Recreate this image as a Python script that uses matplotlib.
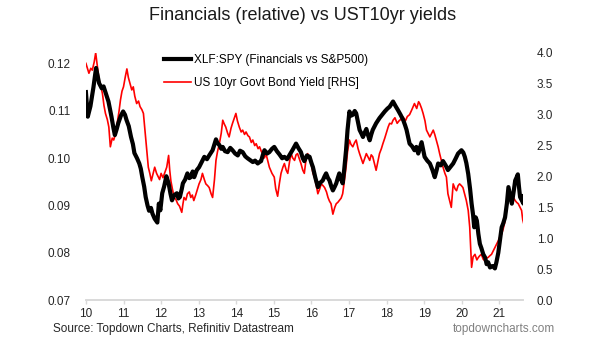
import matplotlib
matplotlib.use("Agg")
from matplotlib import pyplot as plt
from matplotlib.lines import Line2D

plt.rcParams['font.family'] = ['Liberation Sans', 'DejaVu Sans']

# XLF:SPY relative (left axis), time in years (10 = 2010)
fin_t = [10.00, 10.05, 10.12, 10.20, 10.27, 10.35, 10.42, 10.47, 10.54, 10.60, 10.68, 10.73, 10.77, 10.82,
         10.86, 10.93, 10.99, 11.04, 11.08, 11.14, 11.20, 11.25, 11.29, 11.36, 11.42, 11.46, 11.50, 11.55,
         11.59, 11.64, 11.68, 11.73, 11.77, 11.83, 11.90, 11.94, 11.98, 12.03, 12.08, 12.14, 12.20, 12.25,
         12.29, 12.35, 12.42, 12.46, 12.50, 12.55, 12.58, 12.64, 12.70, 12.75, 12.79, 12.84, 12.88, 12.95,
         13.01, 13.08, 13.15, 13.22, 13.28, 13.33, 13.37, 13.42, 13.46, 13.50, 13.55, 13.60, 13.64, 13.70,
         13.77, 13.84, 13.90, 13.97, 14.04, 14.10, 14.17, 14.24, 14.30, 14.37, 14.44, 14.50, 14.57, 14.62,
         14.66, 14.71, 14.75, 14.82, 14.88, 14.95, 15.01, 15.08, 15.15, 15.22, 15.28, 15.35, 15.41, 15.50,
         15.59, 15.65, 15.72, 15.77, 15.81, 15.88, 15.95, 16.00, 16.04, 16.10, 16.17, 16.23, 16.30, 16.35,
         16.39, 16.44, 16.48, 16.53, 16.57, 16.62, 16.66, 16.70, 16.74, 16.79, 16.83, 16.87, 16.92, 16.96,
         17.01, 17.05, 17.10, 17.15, 17.19, 17.24, 17.28, 17.33, 17.37, 17.42, 17.46, 17.50, 17.55, 17.59,
         17.63, 17.68, 17.72, 17.77, 17.81, 17.88, 17.95, 18.02, 18.08, 18.13, 18.17, 18.24, 18.30, 18.37,
         18.44, 18.49, 18.53, 18.57, 18.61, 18.68, 18.74, 18.79, 18.84, 18.93, 19.01, 19.08, 19.15, 19.22,
         19.28, 19.33, 19.37, 19.44, 19.50, 19.57, 19.63, 19.70, 19.77, 19.84, 19.90, 19.99, 20.04, 20.08,
         20.12, 20.17, 20.22, 20.26, 20.30, 20.33, 20.37, 20.40, 20.44, 20.48, 20.52, 20.57, 20.62, 20.66,
         20.70, 20.75, 20.82, 20.88, 20.92, 20.97, 21.02, 21.06, 21.10, 21.15, 21.20, 21.24, 21.29, 21.33,
         21.38, 21.42, 21.46, 21.49, 21.52, 21.55, 21.60, 21.64, 21.65]
fin_v = [0.1140, 0.1088, 0.1110, 0.1150, 0.1191, 0.1159, 0.1148, 0.1152, 0.1135, 0.1120, 0.1088, 0.1065,
         0.1049, 0.1062, 0.1074, 0.1090, 0.1099, 0.1092, 0.1081, 0.1068, 0.1045, 0.1030, 0.1011, 0.1000,
         0.0989, 0.0978, 0.0960, 0.0940, 0.0918, 0.0900, 0.0889, 0.0895, 0.0883, 0.0872, 0.0864, 0.0904,
         0.0890, 0.0926, 0.0940, 0.0962, 0.0947, 0.0925, 0.0911, 0.0922, 0.0926, 0.0915, 0.0918, 0.0935,
         0.0947, 0.0955, 0.0968, 0.0958, 0.0960, 0.0972, 0.0960, 0.0975, 0.0981, 0.0992, 0.1003, 0.0998,
         0.1006, 0.1012, 0.1017, 0.1030, 0.1040, 0.1032, 0.1028, 0.1020, 0.1024, 0.1015, 0.1013, 0.1022,
         0.1017, 0.1010, 0.1006, 0.1016, 0.1013, 0.1004, 0.1000, 0.0996, 0.0992, 0.0995, 0.0989, 0.0992,
         0.0994, 0.1008, 0.1017, 0.1010, 0.1013, 0.1020, 0.1024, 0.1015, 0.1008, 0.1000, 0.1003, 0.0998,
         0.1006, 0.1018, 0.1031, 0.1022, 0.1013, 0.1000, 0.0994, 0.1006, 0.1003, 0.0990, 0.0981, 0.0960,
         0.0939, 0.0948, 0.0953, 0.0962, 0.0968, 0.0958, 0.0953, 0.0940, 0.0932, 0.0940, 0.0947, 0.0958,
         0.0968, 0.0955, 0.0947, 0.0975, 0.1017, 0.1060, 0.1099, 0.1090, 0.1092, 0.1100, 0.1095, 0.1075,
         0.1060, 0.1052, 0.1045, 0.1055, 0.1062, 0.1050, 0.1038, 0.1050, 0.1060, 0.1068, 0.1074, 0.1080,
         0.1085, 0.1092, 0.1099, 0.1105, 0.1109, 0.1115, 0.1120, 0.1110, 0.1102, 0.1092, 0.1081, 0.1070,
         0.1060, 0.1045, 0.1031, 0.1025, 0.1017, 0.1024, 0.1010, 0.1034, 0.1003, 0.0995, 0.0989, 0.0975,
         0.0960, 0.0975, 0.0989, 0.0985, 0.0994, 0.0985, 0.0975, 0.0982, 0.0989, 0.1000, 0.1010, 0.1017,
         0.1012, 0.1003, 0.0990, 0.0967, 0.0935, 0.0904, 0.0880, 0.0854, 0.0875, 0.0868, 0.0840, 0.0819,
         0.0810, 0.0797, 0.0790, 0.0776, 0.0780, 0.0769, 0.0772, 0.0767, 0.0780, 0.0800, 0.0830, 0.0854,
         0.0862, 0.0875, 0.0905, 0.0939, 0.0920, 0.0904, 0.0930, 0.0953, 0.0960, 0.0966, 0.0940, 0.0918,
         0.0910, 0.0904, 0.0920]

# US 10yr govt bond yield (right axis)
ust_t = [10.00, 10.04, 10.08, 10.13, 10.17, 10.22, 10.26, 10.30, 10.35, 10.40, 10.44, 10.48, 10.52, 10.57,
         10.61, 10.65, 10.70, 10.74, 10.79, 10.83, 10.88, 10.92, 10.96, 11.00, 11.05, 11.09, 11.13, 11.17,
         11.22, 11.26, 11.30, 11.35, 11.40, 11.44, 11.49, 11.53, 11.57, 11.62, 11.66, 11.70, 11.74, 11.79,
         11.83, 11.88, 11.92, 11.96, 12.00, 12.05, 12.09, 12.15, 12.20, 12.23, 12.26, 12.30, 12.35, 12.40,
         12.44, 12.49, 12.55, 12.58, 12.61, 12.66, 12.70, 12.75, 12.79, 12.83, 12.87, 12.92, 12.96, 13.01,
         13.06, 13.10, 13.15, 13.19, 13.24, 13.28, 13.33, 13.37, 13.42, 13.46, 13.50, 13.55, 13.60, 13.64,
         13.68, 13.72, 13.77, 13.81, 13.86, 13.90, 13.95, 13.99, 14.03, 14.08, 14.13, 14.17, 14.22, 14.26,
         14.31, 14.35, 14.40, 14.44, 14.49, 14.53, 14.58, 14.62, 14.67, 14.71, 14.75, 14.79, 14.84, 14.88,
         14.95, 15.01, 15.05, 15.10, 15.15, 15.19, 15.24, 15.28, 15.33, 15.37, 15.42, 15.46, 15.50, 15.55,
         15.59, 15.63, 15.68, 15.72, 15.77, 15.81, 15.85, 15.90, 15.95, 15.99, 16.04, 16.08, 16.13, 16.17,
         16.22, 16.26, 16.31, 16.35, 16.40, 16.44, 16.48, 16.52, 16.57, 16.62, 16.66, 16.70, 16.74, 16.79,
         16.83, 16.87, 16.92, 16.96, 17.01, 17.05, 17.10, 17.15, 17.19, 17.24, 17.28, 17.33, 17.37, 17.42,
         17.46, 17.50, 17.55, 17.59, 17.63, 17.68, 17.72, 17.77, 17.81, 17.86, 17.90, 17.95, 17.99, 18.04,
         18.08, 18.13, 18.17, 18.22, 18.28, 18.33, 18.37, 18.44, 18.50, 18.55, 18.61, 18.67, 18.74, 18.80,
         18.85, 18.88, 18.93, 18.97, 19.02, 19.06, 19.10, 19.15, 19.20, 19.24, 19.28, 19.32, 19.37, 19.41,
         19.46, 19.50, 19.55, 19.59, 19.63, 19.68, 19.72, 19.77, 19.82, 19.86, 19.90, 19.94, 19.99, 20.03,
         20.08, 20.12, 20.17, 20.21, 20.24, 20.26, 20.30, 20.35, 20.40, 20.44, 20.48, 20.52, 20.57, 20.61,
         20.66, 20.70, 20.75, 20.79, 20.84, 20.88, 20.92, 20.97, 21.01, 21.06, 21.10, 21.15, 21.20, 21.24,
         21.28, 21.33, 21.38, 21.42, 21.46, 21.50, 21.55, 21.59, 21.62, 21.65]
ust_v = [3.83, 3.75, 3.67, 3.75, 3.72, 3.85, 4.00, 3.80, 3.56, 3.45, 3.34, 3.15, 3.02, 2.92,
         2.80, 2.48, 2.62, 2.59, 2.70, 2.86, 3.05, 3.24, 3.38, 3.45, 3.62, 3.74, 3.60, 3.51,
         3.40, 3.45, 3.30, 3.18, 3.22, 3.13, 3.08, 3.02, 2.75, 2.40, 2.15, 2.05, 1.93, 2.05,
         2.15, 2.05, 2.00, 1.95, 2.05, 1.98, 2.05, 2.15, 2.34, 2.10, 1.93, 1.80, 1.66, 1.62,
         1.56, 1.52, 1.42, 1.55, 1.66, 1.62, 1.72, 1.75, 1.66, 1.70, 1.61, 1.70, 1.78, 1.88,
         1.95, 2.05, 1.95, 1.88, 1.85, 1.82, 1.72, 1.66, 1.95, 2.26, 2.40, 2.53, 2.70, 2.91,
         2.85, 2.80, 2.70, 2.64, 2.78, 2.86, 2.95, 3.02, 2.90, 2.80, 2.72, 2.75, 2.68, 2.72,
         2.66, 2.64, 2.55, 2.59, 2.50, 2.53, 2.45, 2.48, 2.40, 2.37, 2.30, 2.37, 2.25, 2.15,
         2.05, 1.99, 1.80, 1.68, 1.90, 2.05, 2.15, 2.21, 2.10, 2.05, 2.25, 2.37, 2.30, 2.26,
         2.35, 2.37, 2.28, 2.21, 2.10, 2.05, 2.25, 2.37, 2.28, 2.21, 2.05, 1.99, 1.85, 1.72,
         1.80, 1.88, 1.85, 1.82, 1.75, 1.66, 1.60, 1.56, 1.39, 1.50, 1.56, 1.58, 1.61, 1.65,
         1.72, 1.90, 2.15, 2.40, 2.59, 2.52, 2.48, 2.55, 2.59, 2.45, 2.37, 2.28, 2.21, 2.30,
         2.37, 2.32, 2.26, 2.35, 2.32, 2.20, 2.10, 2.25, 2.37, 2.45, 2.53, 2.62, 2.70, 2.80,
         2.86, 2.85, 2.91, 2.95, 2.86, 2.90, 2.92, 2.96, 2.90, 2.97, 3.00, 3.08, 3.18, 3.10,
         3.21, 3.18, 3.10, 3.02, 2.90, 2.75, 2.70, 2.64, 2.70, 2.75, 2.68, 2.59, 2.48, 2.37,
         2.25, 2.15, 2.05, 1.99, 1.72, 1.60, 1.50, 1.88, 1.80, 1.77, 1.85, 1.88, 1.85, 1.82,
         1.70, 1.61, 1.45, 1.18, 0.80, 0.53, 0.70, 0.74, 0.65, 0.69, 0.72, 0.74, 0.66, 0.64,
         0.68, 0.69, 0.72, 0.74, 0.80, 0.85, 0.90, 0.96, 1.02, 1.07, 1.15, 1.28, 1.50, 1.66,
         1.62, 1.72, 1.65, 1.61, 1.58, 1.56, 1.50, 1.45, 1.30, 1.23]

year_ticks = list(range(10, 22))
left_ticks = [0.07, 0.08, 0.09, 0.10, 0.11, 0.12]
right_ticks = [0.0, 0.5, 1.0, 1.5, 2.0, 2.5, 3.0, 3.5, 4.0]

fig = plt.figure(figsize=(6.05, 3.41), dpi=100)
ax = fig.add_axes([0.142, 0.120, 0.722, 0.725])
ax2 = ax.twinx()
ax.set_zorder(ax2.get_zorder() + 1)
ax.patch.set_visible(False)

ax2.plot(ust_t, ust_v, color='#ff0000', lw=1.2)
ax.plot(fin_t, fin_v, color='black', lw=3.0)

ax.set_xlim(10, 21.62)
ax.set_ylim(0.07, 0.1223)
ax2.set_ylim(0, 4.0)

ax.set_xticks(year_ticks)
ax.set_xticklabels([str(y) for y in year_ticks])
ax.set_yticks(left_ticks)
ax.set_yticklabels(['%.2f' % v for v in left_ticks])
ax2.set_yticks(right_ticks)
ax2.set_yticklabels(['%.1f' % v for v in right_ticks])

for a in (ax, ax2):
    for s in ('top', 'left', 'right'):
        a.spines[s].set_visible(False)
    a.spines['bottom'].set_color('#d9d9d9')
    a.spines['bottom'].set_linewidth(1.2)

ax.tick_params(axis='x', colors='#d9d9d9', labelcolor='#262626', length=3, width=1, labelsize=8.5, pad=3)
ax.tick_params(axis='y', length=0, labelsize=8.5, labelcolor='#262626', pad=11)
ax2.tick_params(axis='y', length=0, labelsize=8.5, labelcolor='#262626', pad=10)

handles = [Line2D([], [], color='black', lw=3.0), Line2D([], [], color='#ff0000', lw=1.2)]
ax.legend(handles, ['XLF:SPY (Financials vs S&P500)', 'US 10yr Govt Bond Yield [RHS]'],
          loc='upper left', bbox_to_anchor=(0.16, 1.03), frameon=False, fontsize=8.5,
          handlelength=2.3, handletextpad=0.2, labelspacing=0.95, borderpad=0.2)

fig.text(0.5, 0.955, 'Financials (relative) vs UST10yr yields', ha='center', va='center',
         fontsize=13, color='#1a1a1a')
fig.text(0.087, 0.035, 'Source: Topdown Charts, Refinitiv Datastream', ha='left', va='center',
         fontsize=8.5, color='#262626')
fig.text(0.918, 0.035, 'topdowncharts.com', ha='right', va='center', fontsize=8.5, color='#808080')

fig.savefig('out.png', dpi=100)
